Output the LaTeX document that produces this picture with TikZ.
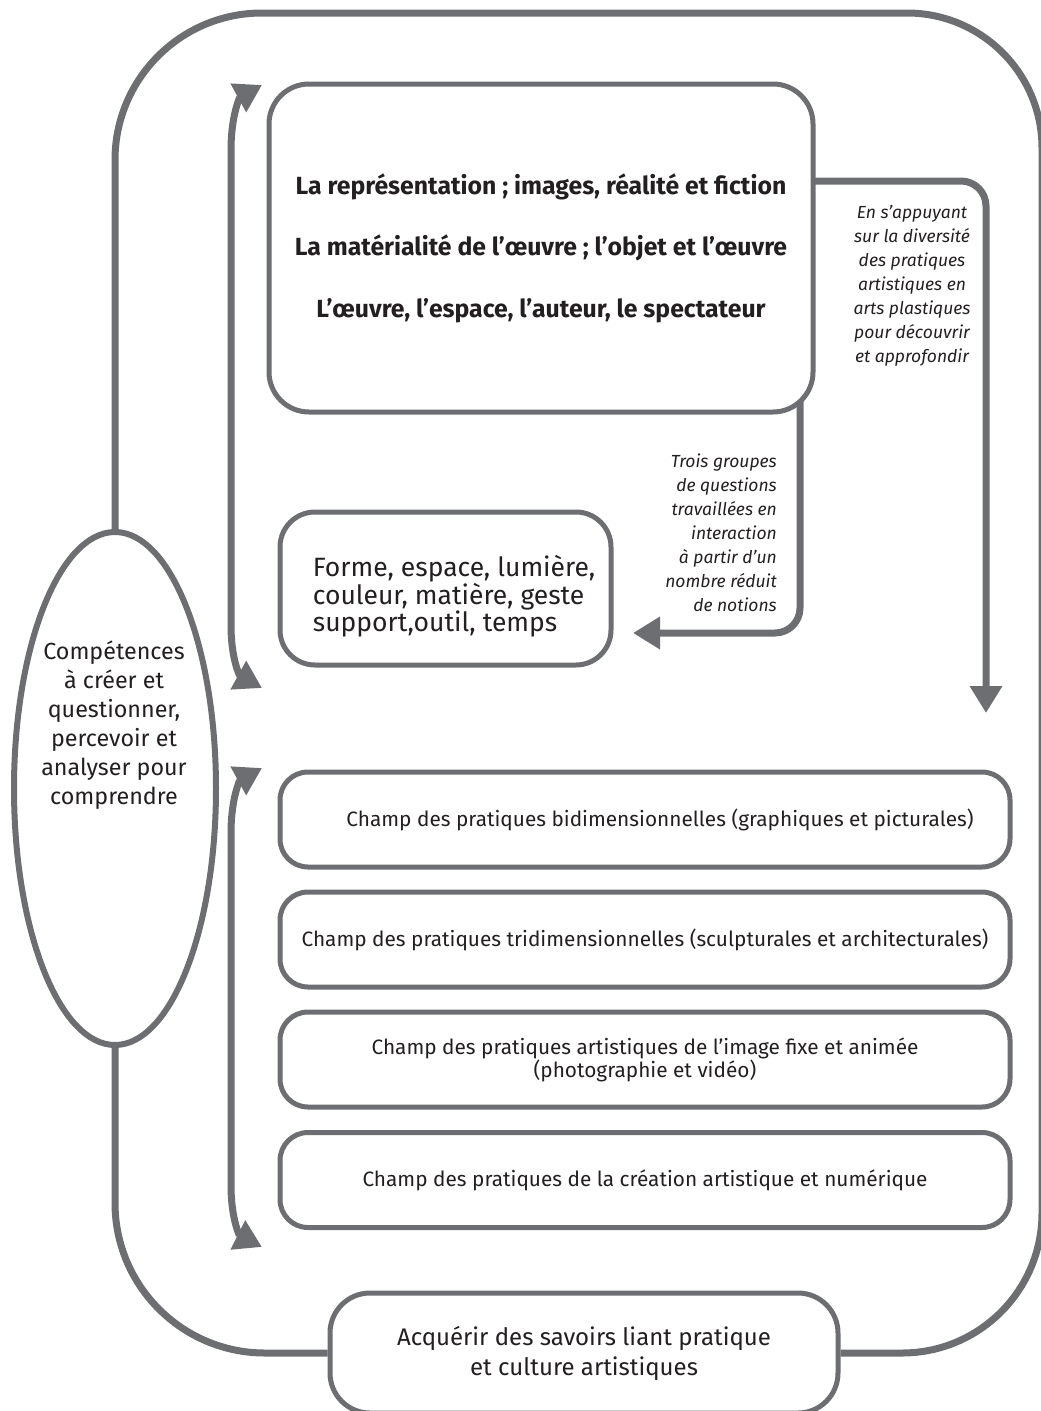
\documentclass[tikz,border=0pt]{standalone}
\usepackage{fontspec}
\setmainfont{Fira Sans}
\usetikzlibrary{arrows.meta,shapes.geometric}
\definecolor{frame}{HTML}{6D6E71}
\definecolor{ink}{HTML}{231F20}

\begin{document}
\begin{tikzpicture}[x=1pt,y=-1pt,
  box/.style={draw=frame, line width=5pt, fill=white, rectangle,
    rounded corners=#1, inner sep=0pt, text=ink, align=center},
  champ/.style={box=28pt, minimum width=730pt, minimum height=95pt,
    font=\fontsize{20.8}{23}\selectfont},
  arr/.style={draw=frame, line width=7pt,
    -{Triangle[width=31pt,length=27pt]}},
  dbl/.style={draw=frame, line width=7pt,
    {Triangle[width=31pt,length=27pt]}-{Triangle[width=31pt,length=27pt]}},
  outer/.style={draw=frame, line width=7pt},
  txt/.style={text=ink, inner sep=0pt},
  note/.style={txt, font=\itshape\fontsize{17.5}{24}\selectfont}
]
\useasboundingbox (0,0) rectangle (1041,1411);

% connector end points
\coordinate (r1) at (812,181);
\coordinate (r2) at (986,713);
\coordinate (d1) at (800,400);
\coordinate (d2) at (633,633);
\coordinate (ua) at (262,85);
\coordinate (ub) at (262,688);
\coordinate (la) at (262,768);
\coordinate (lb) at (262,1247);

% arrows leaving the top box (drawn first so the box covers their start)
\draw[arr, rounded corners=25pt] (r1) -- (986,181) -- (r2);
\draw[arr, rounded corners=25pt] (d1) -- (800,633) -- (d2);

% boxes
\node[box=40pt, minimum width=544pt, minimum height=328pt,
  font=\bfseries\fontsize{24.8}{61.5}\selectfont] (top) at (541,248)
  {La représentation ; images, réalité et fiction\\
   La matérialité de l’œuvre ; l’objet et l’œuvre\\
   L’œuvre, l’espace, l’auteur, le spectateur};

\node[box=35pt, minimum width=331pt, minimum height=153pt] (forme) at (445.5,588.5) {};
\node[txt, align=left, font=\fontsize{26.5}{25.5}\selectfont] (formetext) at (454,596)
  {Forme, espace, lumière,\\couleur, matière, geste\\support,outil, temps};

\node[champ] (c1) at (645,819.5)
  {\hspace*{30pt}Champ des pratiques bidimensionnelles (graphiques et picturales)};
\node[champ] (c2) at (645,939.5)
  {Champ des pratiques tridimensionnelles (sculpturales et architecturales)};
\node[champ] (c3) at (645,1059.5)
  {Champ des pratiques artistiques de l’image fixe et animée\\(photographie et vidéo)};
\node[champ] (c4) at (645,1180)
  {Champ des pratiques de la création artistique et numérique};

\node[box=40pt, minimum width=508pt, minimum height=120pt,
  font=\fontsize{24}{30}\selectfont] (bottom) at (584,1353)
  {Acquérir des savoirs liant pratique\\et culture artistiques};

\node[ellipse, draw=frame, line width=6pt, fill=white,
  minimum width=202pt, minimum height=513pt, inner sep=0pt] (comp) at (115,788.5) {};
\node[txt, align=center, font=\fontsize{23.3}{29}\selectfont] (comptext) at (114,725)
  {Compétences\\à créer et\\questionner,\\percevoir et\\analyser pour\\comprendre};

% italic notes along the arrows
\node[note, align=center] (n1) at (912,286)
  {En s’appuyant\\sur la diversité\\des pratiques\\artistiques en\\arts plastiques\\pour découvrir\\et approfondir};
\node[note, align=right, anchor=east] (n2) at (777,533)
  {Trois groupes\\de questions\\travaillées en\\interaction\\à partir d’un\\nombre réduit\\de notions};

% double arrows on the left
\draw[dbl] (ua) .. controls (240,97) and (231,115) .. (231,150)
  -- (231,625) .. controls (231,660) and (240,676) .. (ub);
\draw[dbl] (la) .. controls (240,780) and (231,798) .. (231,833)
  -- (231,1185) .. controls (231,1220) and (240,1236) .. (lb);

% outer loop
\draw[outer, rounded corners=147pt] (comp.north) -- (115,13)
  [rounded corners=135pt] -- (1042,13)
  [rounded corners=140pt] -- (1042,1353) -- (bottom.east);
\draw[outer, rounded corners=150pt] (comp.south) -- (115,1353) -- (bottom.west);
\end{tikzpicture}
\end{document}
